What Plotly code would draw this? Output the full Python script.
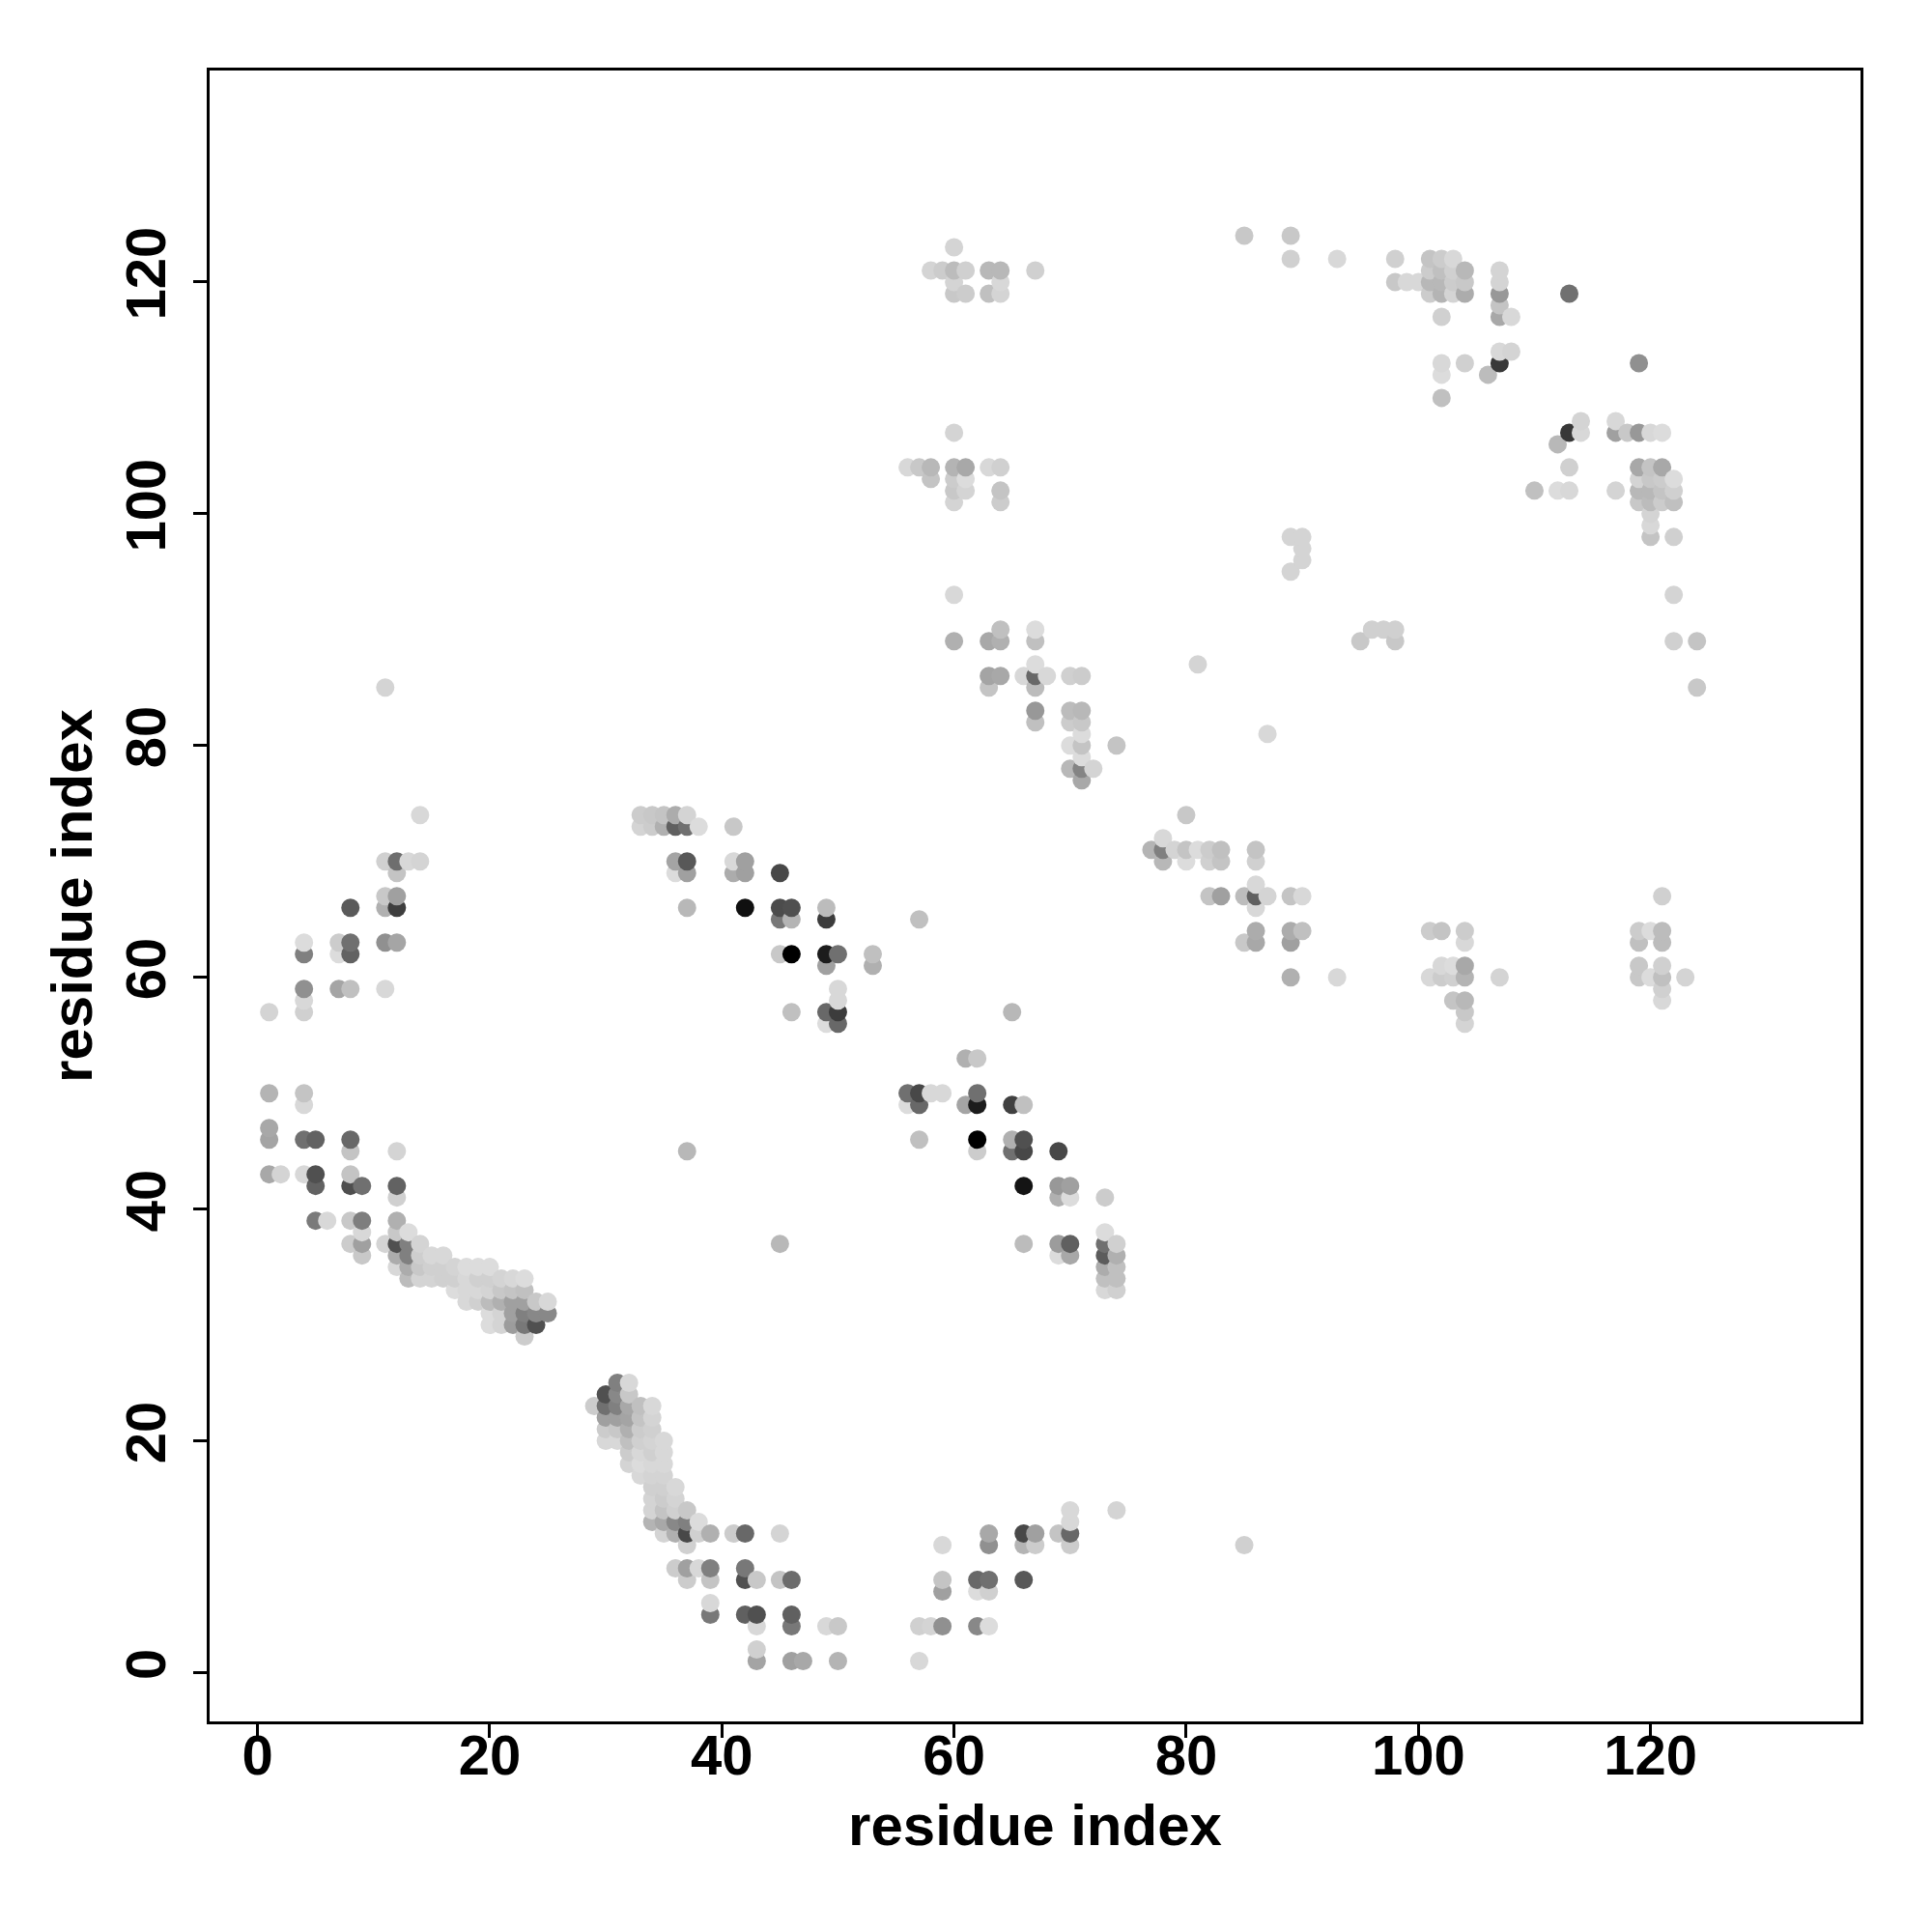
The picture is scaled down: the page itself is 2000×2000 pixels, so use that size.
import plotly.graph_objects as go

# contact points: (residue i, residue j, grey level 0-255)
upper_left = [
    (14,74,0xd8),(11,70,0xd0),(12,70,0x6e),(13,70,0xd8),(14,70,0xd4),(12,69,0xc4),
    (11,67,0xc8),(12,67,0xa0),(8,66,0x5a),(11,66,0xb0),(12,66,0x3e),
    (4,63,0xdc),(7,63,0xcc),(8,63,0x70),(11,63,0x90),(12,63,0xa5),
    (4,62,0x80),(7,62,0xdc),(8,62,0x62),(4,59,0x90),(7,59,0xa5),(8,59,0xc0),(11,59,0xd8),
    (4,58,0xd8),(1,57,0xd4),(4,57,0xd0),(11,85,0xd4),
]
lower_left = [
    (1,50,0xb4),(4,50,0xc4),(4,49,0xd8),(1,47,0xa8),(1,46,0xa4),(4,46,0x70),(5,46,0x62),(8,46,0x68),
    (8,45,0xc4),(12,45,0xd4),(1,43,0xa8),(2,43,0xd4),(4,43,0xd8),(5,43,0x50),(8,43,0xc4),
    (5,42,0x62),(8,42,0x4e),(9,42,0x70),(12,42,0x62),(12,41,0xd0),
    (5,39,0x7a),(6,39,0xd8),(8,39,0xc8),(9,39,0x7e),(12,39,0xb0),
    (9,38,0xd8),(12,38,0xc8),(13,38,0xdc),
    (8,37,0xcc),(9,37,0xa0),(11,37,0xd4),(12,37,0x50),(13,37,0x80),(14,37,0xd4),
    (9,36,0xc8),(12,36,0xac),(13,36,0x80),(14,36,0xce),(15,36,0xd8),(16,36,0xd8),
]
helix_a = [
    (12,35,0xd8),(13,35,0xac),(14,35,0xc8),(15,35,0xd0),(16,35,0xd0),(17,35,0xd4),(18,35,0xdc),(19,35,0xdc),(20,35,0xdc),
    (13,34,0xbc),(14,34,0xd4),(15,34,0xd4),(16,34,0xd0),(17,34,0xd0),(18,34,0xd8),(19,34,0xd0),(20,34,0xd0),(21,34,0xd4),(22,34,0xd8),(23,34,0xdc),
    (17,33,0xdc),(18,33,0xd8),(19,33,0xd8),(20,33,0xd4),(21,33,0xc8),(22,33,0xc4),(23,33,0xc0),
    (18,32,0xd8),(19,32,0xd0),(20,32,0xbc),(21,32,0xb0),(22,32,0xa0),(23,32,0xa0),(24,32,0xc8),(25,32,0xd8),
    (20,31,0xdc),(21,31,0xd4),(22,31,0xa0),(23,31,0x80),(24,31,0x88),(25,31,0x88),
    (20,30,0xdc),(21,30,0xd4),(22,30,0x9c),(23,30,0x78),(24,30,0x50),(23,29,0xcc),
]
helix_b = [
    (31,25,0x80),(32,25,0xd8),(30,24,0x50),(31,24,0x88),(32,24,0xc8),
    (29,23,0xcc),(30,23,0x70),(31,23,0x80),(32,23,0xa8),(33,23,0xc0),(34,23,0xd8),
    (30,22,0xa0),(31,22,0xa0),(32,22,0xa4),(33,22,0xc4),(34,22,0xd4),
    (30,21,0xcc),(31,21,0xc8),(32,21,0xb0),(33,21,0xcc),(34,21,0xd0),
    (30,20,0xd8),(31,20,0xd8),(32,20,0xc0),(33,20,0xd0),(34,20,0xd4),(35,20,0xd8),
    (32,19,0xcc),(33,19,0xd8),(34,19,0xd0),(35,19,0xd8),
    (32,18,0xd4),(33,18,0xdc),(34,18,0xd8),(35,18,0xd8),
    (33,17,0xd8),(34,17,0xd4),(35,17,0xd4),(34,16,0xd0),(35,16,0xd0),(36,16,0xd8),
    (34,15,0xd4),(35,15,0xcc),(36,15,0xd4),(34,14,0xd4),(35,14,0xc4),(36,14,0xd0),(37,14,0xc8),
    (34,13,0xb4),(35,13,0xa8),(36,13,0x88),(37,13,0x80),(38,13,0xdc),
]
bottom_left = [
    (35,12,0xd4),(36,12,0xb0),(37,12,0x48),(38,12,0xd0),(39,12,0xb0),(41,12,0xcc),(42,12,0x68),(45,12,0xd4),
    (37,11,0xd0),(36,9,0xcc),(37,9,0xa0),(38,9,0xd8),(39,9,0x80),(42,9,0x78),
    (37,8,0xcc),(39,8,0xc4),(42,8,0x50),(43,8,0xc8),(45,8,0xc4),(46,8,0x6c),(39,6,0xd8),
    (39,5,0x78),(42,5,0x60),(43,5,0x50),(46,5,0x60),(43,4,0xd8),(46,4,0x78),(49,4,0xd8),(50,4,0xc8),
    (43,2,0xd0),(43,1,0xa4),(46,1,0xa0),(47,1,0xa8),(50,1,0xb4),
]
bottom_mid = [
    (70,14,0xd8),(74,14,0xd4),(70,13,0xd8),
    (63,12,0xa8),(66,12,0x48),(67,12,0xa0),(69,12,0xc4),(70,12,0x68),
    (59,11,0xd8),(63,11,0x90),(66,11,0xb4),(67,11,0xcc),(70,11,0xcc),(85,11,0xd0),
    (59,8,0xc4),(62,8,0x68),(63,8,0x70),(66,8,0x58),(59,7,0xa0),(62,7,0xdc),(63,7,0xd0),
    (57,4,0xd0),(58,4,0xd4),(59,4,0x90),(62,4,0x88),(63,4,0xdc),(57,1,0xd8),
]
center_upper = [
    (33,74,0xcc),(34,74,0xc8),(35,74,0xc4),(36,74,0xac),(37,74,0xd4),
    (33,73,0xd4),(34,73,0xcc),(35,73,0xb0),(36,73,0x60),(37,73,0x70),(38,73,0xdc),(41,73,0xc8),
    (36,70,0xa4),(37,70,0x58),(41,70,0xd8),(42,70,0xa0),
    (36,69,0xdc),(37,69,0xa0),(41,69,0xac),(42,69,0xa0),(45,69,0x48),
    (37,66,0xb8),(42,66,0x10),(45,66,0x4c),(46,66,0x50),(49,66,0xbc),
    (45,65,0x78),(46,65,0xb4),(49,65,0x3c),(57,65,0xc0),
    (45,62,0xc8),(46,62,0x00),(49,62,0x1c),(50,62,0x70),(53,62,0xc0),(49,61,0xa0),(53,61,0xb0),
    (50,59,0xd8),(50,58,0xd8),(46,57,0xc0),(49,57,0x68),(50,57,0x3c),(65,57,0xb8),(49,56,0xdc),(50,56,0x68),
]
center_lower = [
    (61,53,0xb0),(62,53,0xc8),(56,50,0x70),(57,50,0x48),(58,50,0xd8),(59,50,0xd8),(62,50,0x70),
    (56,49,0xdc),(57,49,0x68),(61,49,0xa4),(62,49,0x1c),(65,49,0x40),(66,49,0xc0),
    (57,46,0xc0),(62,46,0x00),(65,46,0xb0),(66,46,0x50),(37,45,0xb8),
    (62,45,0xcc),(65,45,0x70),(66,45,0x48),(69,45,0x48),(66,42,0x14),(69,42,0x98),(70,42,0xa0),
    (69,41,0xb0),(70,41,0xdc),(73,41,0xcc),(73,38,0xdc),
    (45,37,0xb8),(66,37,0xbc),(69,37,0x9c),(70,37,0x60),(73,37,0x70),(74,37,0xd0),
    (69,36,0xdc),(70,36,0xa8),(73,36,0x5c),(74,36,0xb0),(73,35,0xac),(74,35,0xc0),
    (73,34,0xc0),(74,34,0xc0),(73,33,0xd8),(74,33,0xd0),
]
top_mid = [
    (60,123,0xd4),(58,121,0xd4),(59,121,0xcc),(60,121,0xbc),(61,121,0xd0),(63,121,0xb8),(64,121,0xb8),(67,121,0xd0),
    (60,120,0xd4),(64,120,0xd8),(60,119,0xc8),(61,119,0xcc),(63,119,0xc0),(64,119,0xd4),
    (60,107,0xd4),(56,104,0xd8),(57,104,0xc8),(58,104,0xb8),(60,104,0xb4),(61,104,0xa8),(63,104,0xd8),(64,104,0xd0),
    (58,103,0xc4),(60,103,0xcc),(61,103,0xdc),(60,102,0xc8),(61,102,0xd4),(64,102,0xc4),(60,101,0xd4),(64,101,0xcc),
]
middle_diag = [
    (60,93,0xd8),(64,90,0xc0),(67,90,0xdc),(60,89,0xb0),(63,89,0xa8),(64,89,0xb0),(67,89,0xc0),
    (67,87,0xdc),(81,87,0xd4),(63,86,0xa4),(64,86,0xa8),(66,86,0xd8),(67,86,0x68),(68,86,0xd8),(70,86,0xd0),(71,86,0xcc),
    (63,85,0xc4),(67,85,0xbc),(67,83,0x98),(70,83,0xbc),(71,83,0xb8),(67,82,0xc0),(70,82,0xcc),(71,82,0xc8),
    (71,81,0xdc),(87,81,0xd8),(70,80,0xdc),(71,80,0xc4),(74,80,0xc4),(71,79,0xdc),(70,78,0xb8),(71,78,0x84),(72,78,0xd4),(71,77,0xa8),
]
right_diag = [
    (80,74,0xc8),(78,72,0xd8),(77,71,0xb4),(78,71,0x80),(79,71,0xd4),(80,71,0xc4),(81,71,0xdc),(82,71,0xcc),(83,71,0xc0),(86,71,0xc4),
    (78,70,0xb8),(80,70,0xdc),(82,70,0xd0),(83,70,0xc4),(86,70,0xd0),(86,68,0xd8),
    (82,67,0xc4),(83,67,0xa0),(85,67,0xbc),(86,67,0x60),(87,67,0xd4),(89,67,0xc4),(90,67,0xd8),(86,66,0xd8),
    (86,64,0xac),(89,64,0xac),(90,64,0xc0),(85,63,0xc8),(86,63,0xa8),(89,63,0xa0),(89,60,0xb0),(93,60,0xd8),
]
scattered = [
    (85,124,0xc8),(89,124,0xc8),(89,122,0xd0),(93,122,0xd8),
    (89,98,0xd4),(90,98,0xd4),(90,97,0xd4),(90,96,0xd4),(89,95,0xd4),
    (96,90,0xd0),(97,90,0xd0),(98,90,0xd0),(95,89,0xc8),(98,89,0xc8),
    (113,119,0x70),(119,113,0x90),(122,89,0xd0),(124,89,0xc4),(124,85,0xc8),
]
top_right = [
    (98,122,0xd0),(101,122,0xc4),(102,122,0xcc),(103,122,0xd8),
    (101,121,0xcc),(102,121,0xc0),(103,121,0xd0),(104,121,0xb8),(107,121,0xd4),
    (98,120,0xc8),(99,120,0xd8),(100,120,0xd8),(101,120,0xb8),(102,120,0xb8),(103,120,0xcc),(104,120,0xc8),(107,120,0xd4),
    (101,119,0xcc),(102,119,0xb4),(103,119,0xd4),(104,119,0xac),(107,119,0x98),(107,118,0xc4),
    (102,117,0xd0),(107,117,0xa8),(108,117,0xd8),(107,114,0xd8),(108,114,0xd4),
    (102,113,0xd8),(104,113,0xd0),(107,113,0x38),(102,112,0xdc),(106,112,0xbc),(102,110,0xc0),
]
far_right = [
    (114,108,0xd4),(117,108,0xd8),(113,107,0x38),(114,107,0xd8),(117,107,0xa0),(118,107,0xc8),(119,107,0x98),(120,107,0xd8),(121,107,0xdc),
    (112,106,0xb8),(113,104,0xd0),(119,104,0xa8),(120,104,0xc4),(121,104,0xa8),
    (119,103,0xd4),(120,103,0xc8),(121,103,0xcc),(122,103,0xdc),
    (110,102,0xc0),(112,102,0xdc),(113,102,0xd8),(117,102,0xd4),(119,102,0xb8),(120,102,0xb8),(121,102,0xc4),(122,102,0xd0),
    (119,101,0xc8),(120,101,0xbc),(121,101,0xcc),(122,101,0xc0),
    (120,100,0xd4),(120,99,0xd8),(120,98,0xc4),(122,98,0xd0),(122,93,0xd4),
]
right_low = [
    (121,67,0xd0),(101,64,0xcc),(102,64,0xc4),(104,64,0xcc),(119,64,0xcc),(120,64,0xdc),(121,64,0xbc),
    (104,63,0xd8),(119,63,0xc0),(121,63,0xbc),
    (102,61,0xd8),(103,61,0xdc),(104,61,0xa8),(119,61,0xc8),(121,61,0xd0),
    (101,60,0xd8),(102,60,0xcc),(103,60,0xd0),(104,60,0xb4),(107,60,0xd4),(119,60,0xc8),(120,60,0xdc),(121,60,0xc0),(123,60,0xd4),
    (121,59,0xd0),(103,58,0xc4),(104,58,0xb8),(121,58,0xd8),(104,57,0xc8),(104,56,0xd4),
]

tick_values = [0, 20, 40, 60, 80, 100, 120]
axis_label = "residue index"

points = sorted(upper_left + lower_left + helix_a + helix_b + bottom_left + bottom_mid +
                center_upper + center_lower + top_mid + middle_diag + right_diag +
                scattered + top_right + far_right + right_low, key=lambda p: (p[0], p[1]))

TICK_FONT = dict(family="Liberation Sans", size=58, color="black", weight=700)
TITLE_FONT = dict(family="Liberation Sans", size=60, color="black", weight=700)

def axis(axis_range, title_standoff, label_standoff):
    return dict(
        range=axis_range, tickvals=tick_values, ticks="outside", ticklen=14, tickwidth=3,
        tickcolor="black", showline=True, linecolor="black", linewidth=3, mirror=True,
        showgrid=False, zeroline=False, tickfont=TICK_FONT, ticklabelstandoff=label_standoff,
        title=dict(text=axis_label, font=TITLE_FONT, standoff=title_standoff),
    )

fig = go.Figure(go.Scatter(
    x=[p[0] for p in points], y=[p[1] for p in points], mode="markers",
    marker=dict(size=19, color=[f"rgb({p[2]},{p[2]},{p[2]})" for p in points], line=dict(width=0)),
    hoverinfo="skip",
))
fig.update_layout(
    width=2000, height=2000, autosize=False, showlegend=False,
    paper_bgcolor="white", plot_bgcolor="white",
    margin=dict(l=209, r=81.5, t=65, b=225.5, pad=0),
    xaxis=axis([-4.13, 138.09], 21, -32),
    yaxis=dict(axis([-4.21, 138.25], 3, 6), tickangle=-90),
)
fig.write_html("out.html")
